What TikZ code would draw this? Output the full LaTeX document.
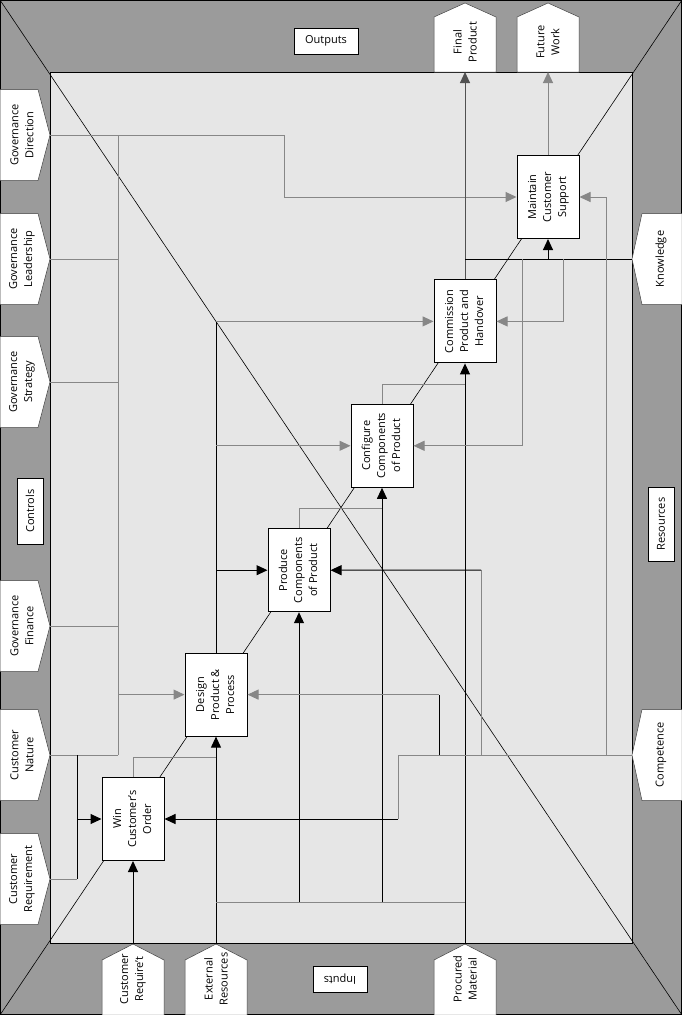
\documentclass[tikz,border=0pt]{standalone}
\usepackage{fontspec}
\setmainfont{Open Sans}
\usepackage{graphicx}
\usetikzlibrary{arrows.meta}

\definecolor{framegray}{HTML}{9B9B9B}
\definecolor{fieldgray}{HTML}{E6E6E6}
\definecolor{linegray}{HTML}{878787}

\newcommand{\vlabel}[1]{\rotatebox{90}{\begin{tabular}{@{}c@{}}#1\end{tabular}}}

\begin{document}
\begin{tikzpicture}[x=1pt, y=-1pt, >={Triangle[length=11pt,width=10pt]},
    font=\fontsize{11}{15}\selectfont,
    procbox/.style={draw, fill=white, line width=1pt, minimum width=62pt, minimum height=83pt, inner sep=0pt},
    tabshape/.style={fill=white, draw=black!75, line width=0.5pt},
    tabtext/.style={rotate=90, align=center, inner sep=0pt},
    labelbox/.style={draw, fill=white, line width=0.8pt, inner sep=0pt, minimum height=26pt},
    gline/.style={linegray, line width=1pt},
    bline/.style={black, line width=1pt}]
        \useasboundingbox (0,0) rectangle (682,1015);
        % frame, field and the two diagonals
        \filldraw[fill=framegray, draw=black, line width=1.2pt] (0,0) rectangle (682,1015);
        \filldraw[fill=fieldgray, draw=black, line width=1pt] (50,72) rectangle (632,943);
        \draw[line width=0.6pt] (0,0) -- (682,1015);
        \draw[line width=0.6pt] (682,0) -- (0,1015);
        % tabs on the four sides
        \foreach \y/\nm/\txt in {135/gdir/{Governance\\Direction}, 259/glead/{Governance\\Leadership},
                382/gstrat/{Governance\\Strategy}, 626/gfin/{Governance\\Finance},
                755/cnat/{Customer\\Nature}, 879/creq/{Customer\\Requirement}} {
            \filldraw[tabshape] (0,\y-45.5) -- (38,\y-45.5) -- (50,\y) -- (38,\y+45.5) -- (0,\y+45.5) -- cycle;
            \coordinate (\nm) at (50,\y);
            \node[tabtext] (\nm-t) at (22,\y) {\txt};
        }
        \foreach \y/\nm/\txt in {259/know/Knowledge, 755/comp/Competence} {
            \filldraw[tabshape] (682,\y-45.5) -- (642,\y-45.5) -- (632,\y) -- (642,\y+45.5) -- (682,\y+45.5) -- cycle;
            \coordinate (\nm) at (632,\y);
            \node[tabtext] (\nm-t) at (661,\y) {\txt};
        }
        \foreach \x/\nm/\txt in {465/fprod/{Final\\Product}, 548/fwork/{Future\\Work}} {
            \filldraw[tabshape] (\x-31,72) -- (\x-31,17) -- (\x,3) -- (\x+31,17) -- (\x+31,72) -- cycle;
            \coordinate (\nm) at (\x,72);
            \node[tabtext] (\nm-t) at (\x,42) {\txt};
        }
        \foreach \x/\nm/\txt in {133/creqt/{Customer\\Require’t}, 216/extres/{External\\Resources},
                465/procm/{Procured\\Material}} {
            \filldraw[tabshape] (\x-31,1015) -- (\x-31,960) -- (\x,944) -- (\x+31,960) -- (\x+31,1015) -- cycle;
            \coordinate (\nm) at (\x,944);
            \node[tabtext] (\nm-t) at (\x,979) {\txt};
        }
        % side labels
        \node[labelbox, minimum width=64pt] (outp) at (326,41) {Outputs};
        \node[labelbox, minimum width=54pt, rotate=180] (inp) at (340,979) {Inputs};
        \node[labelbox, minimum width=66pt, rotate=90] (ctrl) at (30,511) {Controls};
        \node[labelbox, minimum width=74pt, rotate=90] (res) at (661,524) {Resources};
        % the six activities, one step up and right each
        \foreach \i/\nm/\txt in {0/win/{Win\\Customer’s\\Order}, 1/design/{Design\\Product \&\\Process},
                2/produce/{Produce\\Components\\of Product}, 3/configure/{Configure\\Components\\of Product},
                4/commission/{Commission\\Product and\\Handover}, 5/maintain/{Maintain\\Customer\\Support}}
            \node[procbox] (\nm) at (133+83*\i, 819-124.4*\i) {\vlabel{\txt}};
        \coordinate (ctlbus) at (118,135);
        \coordinate (desout) at (design.north |- commission.west);
        \coordinate (extbus) at (216,902);
        \coordinate (cmpbus) at (398,755);
        \coordinate (knwbus) at (commission.north |- know);
        % controls
        \draw[gline, ->] (gdir) -- (284,135) |- (maintain.west);
        \draw[gline] (ctlbus) -- (ctlbus |- cnat);
        \foreach \nm in {glead,gstrat,gfin,cnat}
            \draw[gline] (\nm) -- (\nm -| ctlbus);
        \draw[gline, ->] (design.west -| ctlbus) -- (design.west);
        \draw[gline] (creq) -- (77,879);
        \draw[bline] (77,755) -- (77,879);
        \draw[bline, ->] (win.west -| 77,0) -- (win.west);
        % inputs
        \draw[bline, ->] (creqt) -- (win.south);
        \draw[bline, ->] (extres) -- (design.south);
        \draw[gline] (extbus) -- (extbus -| procm);
        \draw[bline, ->] (extbus -| produce.south) -- (produce.south);
        \draw[bline, ->] (extbus -| configure.south) -- (configure.south);
        \draw[bline, ->] (procm) -- (commission.south);
        % outputs passed on
        \draw[gline] (win.north) |- (design.south |- 0,757);
        \draw[gline] (produce.north) |- (configure.south |- 0,508);
        \draw[gline] (configure.north) |- (commission.south |- 0,384);
        \draw[bline] (design.north) -- (desout);
        \draw[gline, ->] (desout) -- (commission.west);
        \draw[gline, ->] (configure.west -| desout) -- (configure.west);
        \draw[bline, ->] (produce.west -| desout) -- (produce.west);
        \draw[linegray!60!black, line width=1pt, ->] (commission.north) -- (fprod);
        \draw[gline, ->] (maintain.north) -- (fwork);
        % resources
        \draw[bline] (know) -- (knwbus);
        \draw[bline, ->] (maintain.south |- know) -- (maintain.south);
        \draw[gline, ->] (522,259) |- (configure.east);
        \draw[gline, ->] (563,259) |- (commission.east);
        \draw[gline] (comp) -- (cmpbus) -- (cmpbus |- win.east);
        \draw[bline, ->] (cmpbus |- win.east) -- (win.east);
        \draw[gline, ->] (606,755) |- (maintain.east);
        \draw[gline] (481,755) -- (481,570.2);
        \draw[bline, ->] (481,570.2) -- (produce.east);
        \draw[bline] (439,755) -- (439,694.6);
        \draw[gline, ->] (439,694.6) -- (design.east);
    \end{tikzpicture}
\end{document}
